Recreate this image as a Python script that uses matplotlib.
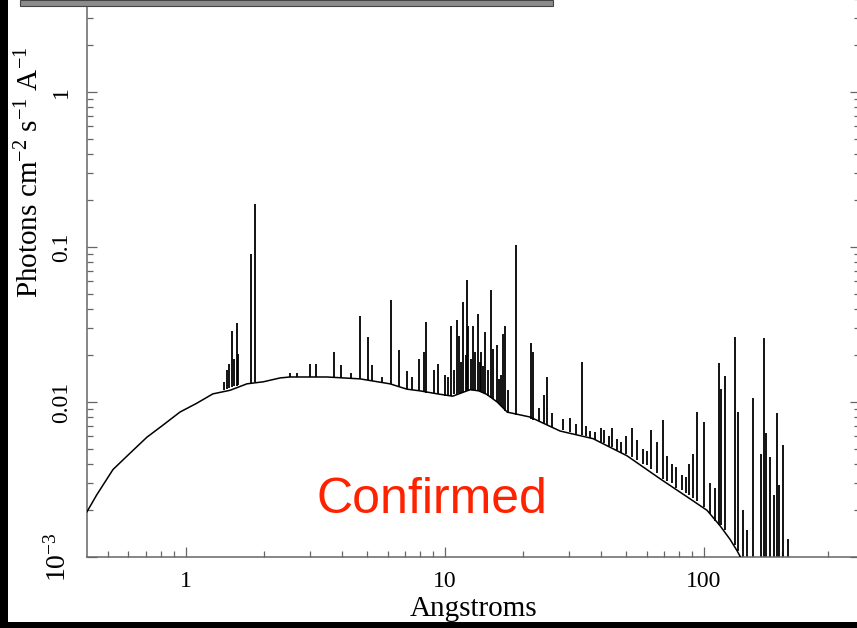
import matplotlib
matplotlib.use("Agg")
import matplotlib.pyplot as plt
from matplotlib.patches import Rectangle
from matplotlib.ticker import FixedLocator, FixedFormatter, LogLocator, NullFormatter

# smooth (lower envelope) spectrum
cont_wave = [0.415, 0.452, 0.523, 0.608, 0.707, 0.817, 0.948, 1.10, 1.27, 1.48,
             1.72, 1.99, 2.31, 2.52, 3.50, 4.70, 6.13, 7.13, 8.01, 9.3,
             10.7, 11.5, 12.5, 13.5, 14.5, 15.9, 17.4, 21.3, 27.8, 37.3,
             50.4, 67.6, 90.8, 102.7, 115, 126, 134, 140]
cont_flux = [0.00196, 0.00251, 0.00367, 0.00467, 0.00593, 0.00711, 0.00861, 0.00981, 0.01128, 0.0119,
             0.0131, 0.0135, 0.0143, 0.0145, 0.0145, 0.0141, 0.0131, 0.0121, 0.0118, 0.0113,
             0.0109, 0.0114, 0.0120, 0.0118, 0.0112, 0.0100, 0.0086, 0.0080, 0.0065, 0.0058,
             0.0045, 0.0032, 0.0023, 0.0020, 0.0016, 0.0013, 0.0011, 0.00096]

# emission lines: wavelength, peak flux, flux at the foot of the line
line_wave = [1.40, 1.44, 1.47, 1.505, 1.53, 1.573, 1.59, 1.78, 1.85,
             2.52, 2.68, 3.01, 3.18, 3.73, 3.97, 4.33, 4.70, 5.04, 5.23, 5.71,
             6.19, 6.64, 7.13, 7.45, 7.94, 8.30, 8.45, 9.10, 9.40,
             10.0, 10.25, 10.55, 10.8, 11.1, 11.3, 11.5, 11.7, 12.0, 12.2, 12.3, 12.6,
             12.8, 13.1, 13.4, 13.6, 13.8, 14.0, 14.3, 14.6, 15.0, 15.3, 15.9, 16.2,
             16.4, 16.7, 17.0, 17.5, 18.8, 21.5, 21.9, 23.0, 24.1, 24.8, 26.0,
             28.5, 30.4, 32.0, 33.8, 35.0, 36.3, 38.0, 40.0, 41.0, 43.0, 44.1, 46.0,
             48.0, 50.0, 52.7, 55.0, 58.0, 60.0, 62.6, 65.9, 69.5, 72.0, 75.0, 78.0,
             82.0, 85.0, 87.6, 90.8, 94.0, 100.0, 105.0, 110.0, 114.2, 116.0, 120.5,
             131.8, 135.0, 141.0, 146.0, 154.6, 166.0, 170.5, 174.0, 180.0, 186.0,
             191.0, 194.0, 202.0, 211.0]
line_peak = [0.0135, 0.0160, 0.0175, 0.0289, 0.0190, 0.0321, 0.0205, 0.0900, 0.1900,
             0.0153, 0.0153, 0.0177, 0.0177, 0.0211, 0.0174, 0.0154, 0.0357, 0.0264, 0.0174, 0.0146,
             0.0453, 0.0218, 0.0158, 0.0145, 0.0190, 0.0211, 0.0326, 0.0160, 0.0177,
             0.0150, 0.0145, 0.0307, 0.0160, 0.0340, 0.0268, 0.0180, 0.0440, 0.0200, 0.0610, 0.0310, 0.0190,
             0.0310, 0.0210, 0.0367, 0.0180, 0.0211, 0.0170, 0.0281, 0.0160, 0.0526, 0.0221, 0.0233, 0.0140,
             0.0150, 0.0275, 0.0307, 0.0120, 0.1030, 0.0242, 0.0211, 0.0092, 0.0111, 0.0146, 0.0085,
             0.0078, 0.0079, 0.0072, 0.0182, 0.0070, 0.0065, 0.0064, 0.0068, 0.0066, 0.0060, 0.0068, 0.0058,
             0.0055, 0.0060, 0.0068, 0.0057, 0.0050, 0.0048, 0.0066, 0.0055, 0.0076, 0.0045, 0.0040, 0.0038,
             0.0034, 0.0033, 0.0040, 0.0046, 0.0086, 0.0074, 0.0030, 0.0028, 0.0179, 0.0121, 0.0148,
             0.0264, 0.0086, 0.0020, 0.0015, 0.0106, 0.0046, 0.0260, 0.0063, 0.0044, 0.0025,
             0.0085, 0.0029, 0.0053, 0.0013]
line_base = [0.0120, 0.0122, 0.0124, 0.0125, 0.0126, 0.0127, 0.0128, 0.0132, 0.0134,
             0.0145, 0.0145, 0.0146, 0.0146, 0.0145, 0.0143, 0.0142, 0.0141, 0.0139, 0.0137, 0.0135,
             0.0131, 0.0127, 0.0122, 0.0120, 0.0118, 0.0116, 0.0115, 0.0113, 0.0112,
             0.0110, 0.0110, 0.0110, 0.0112, 0.0113, 0.0114, 0.0115, 0.0116, 0.0118, 0.0119, 0.0120, 0.0120,
             0.0119, 0.0118, 0.0118, 0.0117, 0.0116, 0.0115, 0.0113, 0.0110, 0.0106, 0.0104, 0.0100, 0.0097,
             0.0094, 0.0091, 0.0088, 0.0085, 0.0082, 0.0078, 0.0077, 0.0075, 0.0072, 0.0071, 0.0069,
             0.0066, 0.0064, 0.0062, 0.0061, 0.0060, 0.0059, 0.0057, 0.0055, 0.0054, 0.0052, 0.0051, 0.0049,
             0.0047, 0.0046, 0.0044, 0.0042, 0.0040, 0.0039, 0.0037, 0.0035, 0.0032, 0.0031, 0.0030, 0.0028,
             0.0027, 0.0026, 0.0025, 0.0024, 0.0023, 0.0021, 0.0019, 0.0017, 0.0016, 0.0016, 0.0015,
             0.0012, 0.0011, 0.0008, 0.0008, 0.0008, 0.0008, 0.0008, 0.0008, 0.0008, 0.0008,
             0.0008, 0.0008, 0.0008, 0.0008]

y_ticks = [1e-3, 1e-2, 1e-1, 1, 10, 100]
y_tick_labels = [r"$10^{-3}$", "0.01", "0.1", "1", "", ""]   # 10 and 100 are cropped off
x_ticks = [1, 10, 100]
x_tick_labels = ["1", "10", "100"]

plt.rcParams["font.family"] = "Liberation Serif"
plt.rcParams["mathtext.fontset"] = "custom"
plt.rcParams["mathtext.rm"] = "Liberation Serif"
plt.rcParams["mathtext.it"] = "Liberation Serif:italic"

W, H = 857, 628
fig = plt.figure(figsize=(W / 100, H / 100), dpi=100)
fig.patch.set_facecolor("white")

# axes extend past the top and right edge (the screenshot is cropped)
left, bottom = 87 / W, 71 / H
width, height = (860 - 87) / W, 775 / H
ax = fig.add_axes([left, bottom, width, height])

ax.vlines(line_wave, line_base, line_peak, color="black", linewidth=1.3, zorder=2)
ax.plot(cont_wave, cont_flux, color="black", linewidth=1.1, zorder=3)

ax.set_xscale("log")
ax.set_yscale("log")
ax.set_xlim(0.415, 400)
ax.set_ylim(1e-3, 100)

spine_color = "#666666"
for s in ax.spines.values():
    s.set_color(spine_color)
    s.set_linewidth(1.1)

ax.yaxis.set_major_locator(FixedLocator(y_ticks))
ax.yaxis.set_major_formatter(FixedFormatter(y_tick_labels))
ax.xaxis.set_major_locator(FixedLocator(x_ticks))
ax.xaxis.set_major_formatter(FixedFormatter(x_tick_labels))
ax.xaxis.set_minor_locator(LogLocator(base=10, subs=range(2, 10)))
ax.yaxis.set_minor_locator(LogLocator(base=10, subs=range(2, 10)))
ax.xaxis.set_minor_formatter(NullFormatter())
ax.yaxis.set_minor_formatter(NullFormatter())

ax.tick_params(which="both", direction="in", top=True, right=True,
               color=spine_color, width=0.9)
ax.tick_params(which="major", length=7.5)
ax.tick_params(which="minor", length=4.5)
ax.tick_params(axis="x", which="major", labelsize=17, pad=10)
ax.tick_params(axis="y", which="major", labelsize=17, pad=11)
for lbl in ax.get_yticklabels():
    lbl.set_rotation(90)
    lbl.set_verticalalignment("center")
ax.get_yticklabels()[0].set_fontsize(20)

ax.set_xlabel("Angstroms", fontsize=21, labelpad=3)
ax.set_ylabel(r"Photons cm$^{-2}$ s$^{-1}$ A$^{-1}$", fontsize=21)
ax.yaxis.set_label_coords(-0.055, 0.497)

# slide overlay: red caption
fig.text(432 / W, (H - 513) / H, "Confirmed", color="#ff2200", fontsize=36,
         family="Liberation Sans", ha="center", va="baseline")

# screenshot frame: black borders and a grey bar at the top
fig.add_artist(Rectangle((0, 0), 8 / W, 1, transform=fig.transFigure,
                         facecolor="black", edgecolor="none", zorder=10))
fig.add_artist(Rectangle((0, 0), 1, 6 / H, transform=fig.transFigure,
                         facecolor="black", edgecolor="none", zorder=10))
fig.add_artist(Rectangle((20 / W, (H - 6) / H), 533 / W, 6 / H, transform=fig.transFigure,
                         facecolor="#8c8c8c", edgecolor="#444444", linewidth=0.8, zorder=10))

fig.savefig("out.png", dpi=100)
